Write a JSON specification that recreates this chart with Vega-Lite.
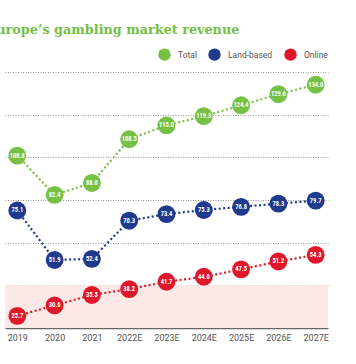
{
  "$schema": "https://vega.github.io/schema/vega-lite/v6.json",
  "width": 323,
  "height": 256,
  "autosize": {"type": "none"},
  "padding": {"left": 5, "top": 72, "right": 28, "bottom": 36},
  "background": "white",
  "title": {
    "text": "Europe’s gambling market revenue",
    "anchor": "start",
    "frame": "group",
    "dx": -18.5,
    "offset": 11,
    "font": "DejaVu Serif",
    "fontSize": 12.8,
    "fontWeight": "bold",
    "color": "#72bf44"
  },
  "config": {"view": {"stroke": null}},
  "datasets": {
    "rev": [
      {"year": "2019", "series": "Total", "value": 100.8},
      {"year": "2020", "series": "Total", "value": 82.4},
      {"year": "2021", "series": "Total", "value": 88.0},
      {"year": "2022E", "series": "Total", "value": 108.5},
      {"year": "2023E", "series": "Total", "value": 115.0},
      {"year": "2024E", "series": "Total", "value": 119.3},
      {"year": "2025E", "series": "Total", "value": 124.4},
      {"year": "2026E", "series": "Total", "value": 129.6},
      {"year": "2027E", "series": "Total", "value": 134.0},
      {"year": "2019", "series": "Land-based", "value": 75.1},
      {"year": "2020", "series": "Land-based", "value": 51.9},
      {"year": "2021", "series": "Land-based", "value": 52.4},
      {"year": "2022E", "series": "Land-based", "value": 70.3},
      {"year": "2023E", "series": "Land-based", "value": 73.4},
      {"year": "2024E", "series": "Land-based", "value": 75.3},
      {"year": "2025E", "series": "Land-based", "value": 76.8},
      {"year": "2026E", "series": "Land-based", "value": 78.3},
      {"year": "2027E", "series": "Land-based", "value": 79.7},
      {"year": "2019", "series": "Online", "value": 25.7},
      {"year": "2020", "series": "Online", "value": 30.6},
      {"year": "2021", "series": "Online", "value": 35.5},
      {"year": "2022E", "series": "Online", "value": 38.2},
      {"year": "2023E", "series": "Online", "value": 41.7},
      {"year": "2024E", "series": "Online", "value": 44.0},
      {"year": "2025E", "series": "Online", "value": 47.5},
      {"year": "2026E", "series": "Online", "value": 51.2},
      {"year": "2027E", "series": "Online", "value": 54.3}
    ]
  },
  "layer": [
    {
      "data": {"values": [{"lo": 20, "hi": 40}]},
      "mark": {"type": "rect", "color": "#fde9e6"},
      "encoding": {
        "y": {"field": "lo", "type": "quantitative", "scale": {"domain": [20, 140], "nice": false, "zero": false}},
        "y2": {"field": "hi"}
      }
    },
    {
      "data": {"name": "rev"},
      "mark": {"type": "line", "strokeDash": [2, 2.5], "strokeWidth": 2.2},
      "encoding": {
        "x": {
          "field": "year", "type": "ordinal", "sort": null,
          "scale": {"type": "point", "padding": 0.33},
          "axis": {"title": null, "labelAngle": 0, "ticks": false, "domainColor": "#666666", "domainWidth": 1.5, "labelColor": "#555555", "labelFontSize": 9, "labelPadding": 5, "labelFont": "Roboto", "grid": false}
        },
        "y": {
          "field": "value", "type": "quantitative",
          "scale": {"domain": [20, 140], "nice": false, "zero": false},
          "axis": {"title": null, "labels": false, "ticks": false, "domain": false, "grid": true, "values": [40, 60, 80, 100, 120, 140], "gridColor": "#9a9a9a", "gridDash": [1, 1.5], "gridWidth": 1}
        },
        "color": {
          "field": "series", "type": "nominal",
          "scale": {"domain": ["Total", "Land-based", "Online"], "range": ["#76c043", "#1f3a8c", "#e0172b"]},
          "legend": {"orient": "none", "legendX": 153, "legendY": -24, "direction": "horizontal", "title": null, "symbolType": "circle", "symbolSize": 155, "symbolStrokeWidth": 0, "symbolOpacity": 1, "labelFontSize": 8.5, "labelColor": "#555555", "labelFont": "Roboto", "columnPadding": 11, "labelOffset": 7}
        },
        "detail": {"field": "series"}
      }
    },
    {
      "data": {"name": "rev"},
      "mark": {"type": "point", "filled": true, "opacity": 1, "size": 320, "shape": "circle"},
      "encoding": {
        "x": {"field": "year", "type": "ordinal", "sort": null},
        "y": {"field": "value", "type": "quantitative"},
        "color": {"field": "series", "type": "nominal"}
      }
    },
    {
      "data": {"name": "rev"},
      "mark": {"type": "text", "color": "white", "fontSize": 6.5, "fontWeight": "bold", "font": "Roboto Condensed, DejaVu Sans Condensed, Roboto"},
      "encoding": {
        "x": {"field": "year", "type": "ordinal", "sort": null},
        "y": {"field": "value", "type": "quantitative"},
        "text": {"field": "value", "type": "quantitative", "format": ".1f"}
      }
    }
  ]
}
